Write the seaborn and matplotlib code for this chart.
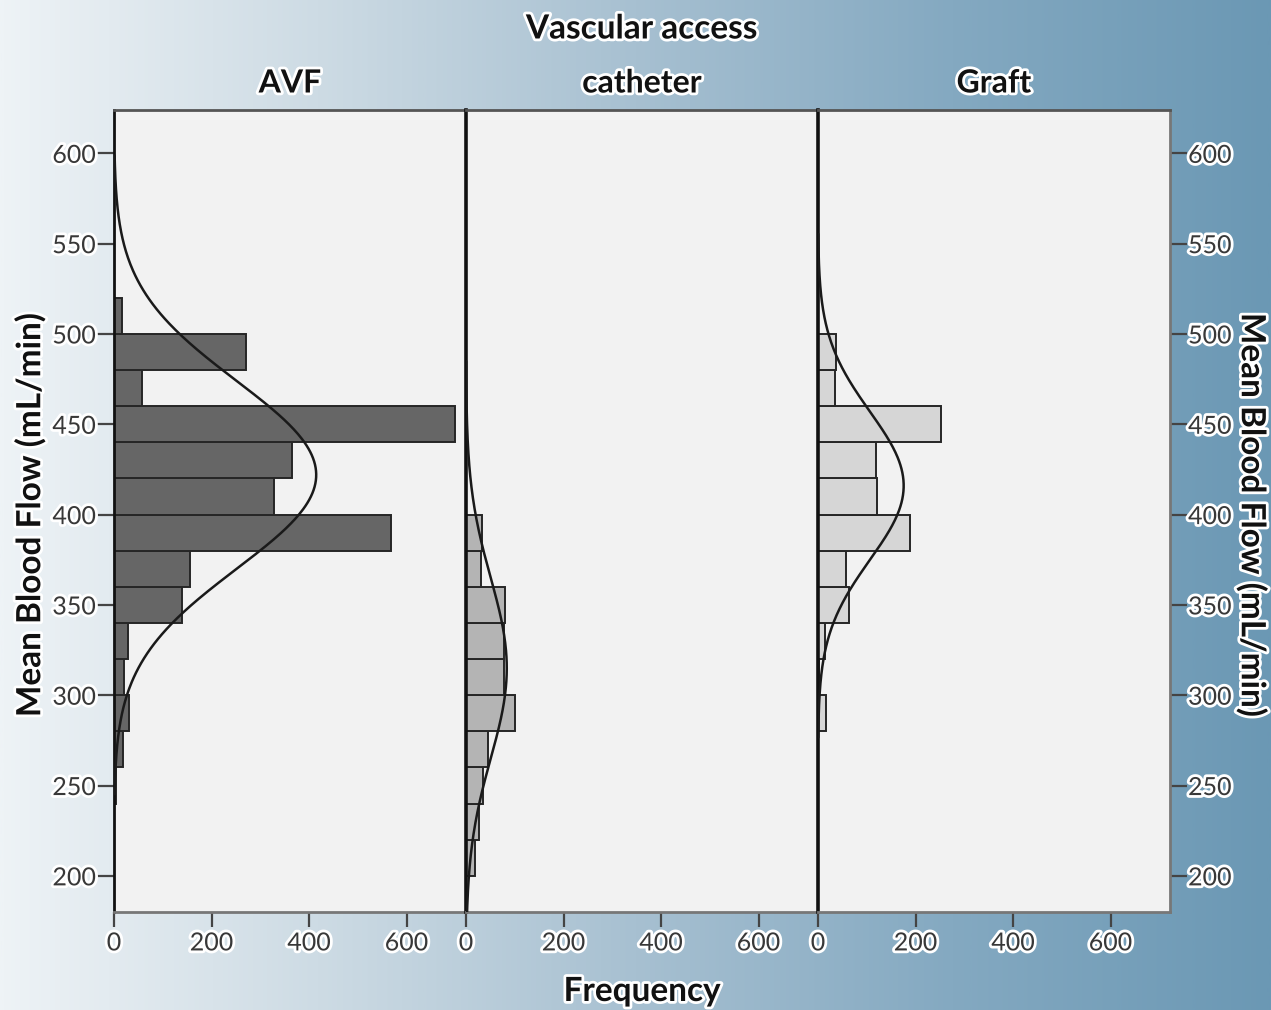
import numpy as np
import pandas as pd
import seaborn as sns
import matplotlib.pyplot as plt
from matplotlib import patheffects as pe
from matplotlib.colors import LinearSegmentedColormap

# ---------------- data ----------------
groups = ["AVF", "catheter", "Graft"]
bin_width = 20

avf_edges = list(range(240, 540, 20))          # 240 ... 520
avf_counts = [4, 19, 31, 20, 29, 139, 156, 568, 328, 366, 699, 58, 270, 16]

cath_edges = list(range(200, 420, 20))         # 200 ... 400
cath_counts = [18, 26, 34, 46, 100, 78, 78, 81, 30, 33]

graft_edges = list(range(280, 520, 20))        # 280 ... 500
graft_counts = [16, 2, 14, 63, 58, 188, 122, 118, 252, 34, 36]

curve_means = [422, 315, 416]
curve_sds = [52, 50, 41]

x_ticks = [0, 200, 400, 600]
y_ticks = [200, 250, 300, 350, 400, 450, 500, 550, 600]

bar_colors = ["#666666", "#b4b4b4", "#d6d6d6"]

# ---------------- style ----------------
sns.set_theme(style="white")
plt.rcParams["font.family"] = ["Lato", "DejaVu Sans"]
halo = [pe.withStroke(linewidth=4, foreground="white")]

W, H = 1271, 1010
fig = plt.figure(figsize=(W / 100, H / 100), dpi=100)

# gradient background
bg = fig.add_axes([0, 0, 1, 1], zorder=-10)
grad = np.linspace(0, 1, 512).reshape(1, -1)
cmap = LinearSegmentedColormap.from_list(
    "bg", ["#eef3f6", "#cddbe4", "#a7c0d1", "#84a9c1", "#6b98b4"])
bg.imshow(grad, aspect="auto", cmap=cmap, extent=[0, 1, 0, 1])
bg.set_xlim(0, 1)
bg.set_ylim(0, 1)
bg.axis("off")

left_px, right_px, top_px, bottom_px = 114, 1170, 110, 912
pw = (right_px - left_px) / 3 / W
ph = (bottom_px - top_px) / H
y0 = 1 - bottom_px / H

all_edges = [avf_edges, cath_edges, graft_edges]
all_counts = [avf_counts, cath_counts, graft_counts]

tick_fs = 18
title_fs = 23
label_fs = 24

axes = []
for i, g in enumerate(groups):
    ax = fig.add_axes([left_px / W + i * pw, y0, pw, ph])
    axes.append(ax)
    ax.set_facecolor("#f2f2f2")
    edges = [float(e) for e in all_edges[i]]
    counts = np.array(all_counts[i], dtype=float)
    mids = [(a + b) / 2 for a, b in zip(edges[:-1], edges[1:])]
    df = pd.DataFrame({"flow": mids, "n": counts})
    sns.histplot(data=df, y="flow", weights="n", bins=edges, ax=ax,
                 color=bar_colors[i], edgecolor="#262626", linewidth=1.4,
                 alpha=1.0)
    # normal curve
    m, s = curve_means[i], curve_sds[i]
    n_tot = counts.sum()
    yy = np.linspace(m - 3.4 * s, m + 3.4 * s, 400)
    xx = n_tot * bin_width * np.exp(-0.5 * ((yy - m) / s) ** 2) / (s * np.sqrt(2 * np.pi))
    ax.plot(xx, yy, color="#1a1a1a", lw=1.8, zorder=5)

    ax.set_xlim(0, 722)
    ax.set_ylim(180, 624)
    ax.set_xlabel("")
    ax.set_ylabel("")
    ax.set_xticks(x_ticks)
    ax.set_xticklabels([str(t) for t in x_ticks])
    ax.tick_params(axis="x", direction="out", length=11, width=1.6,
                   color="#444444", labelsize=tick_fs, labelcolor="#383838",
                   pad=3, bottom=True)
    for lab in ax.get_xticklabels():
        lab.set_path_effects(halo)

    ax.set_yticks(y_ticks)
    if i == 0:
        ax.tick_params(axis="y", direction="out", length=12, width=1.6,
                       color="#444444", labelsize=tick_fs, labelcolor="#383838",
                       pad=1, left=True, right=False)
        for lab in ax.get_yticklabels():
            lab.set_path_effects(halo)
    elif i == 2:
        ax.yaxis.tick_right()
        ax.tick_params(axis="y", direction="out", length=12, width=1.6,
                       color="#444444", labelsize=tick_fs, labelcolor="#383838",
                       pad=1, right=True, left=False, labelright=True,
                       labelleft=False)
        for lab in ax.get_yticklabels():
            lab.set_path_effects(halo)
    else:
        ax.tick_params(axis="y", left=False, right=False, labelleft=False)

    for side in ["top", "bottom", "left", "right"]:
        ax.spines[side].set_visible(True)
    ax.spines["top"].set_color("#555555")
    ax.spines["top"].set_linewidth(2)
    ax.spines["bottom"].set_color("#777777")
    ax.spines["bottom"].set_linewidth(2)
    ax.spines["left"].set_color("#111111")
    ax.spines["left"].set_linewidth(2.6 if i > 0 else 2)
    if i < 2:
        ax.spines["right"].set_visible(False)
    else:
        ax.spines["right"].set_color("#777777")
        ax.spines["right"].set_linewidth(2)

    # column title
    cx = (left_px + (i + 0.5) * (right_px - left_px) / 3) / W
    fig.text(cx, 1 - 83 / H, g, ha="center", va="center", fontsize=title_fs,
             fontweight="bold", color="#111111", path_effects=halo)

fig.text(642 / W, 1 - 29 / H, "Vascular access", ha="center", va="center",
         fontsize=label_fs, fontweight="bold", color="#111111", path_effects=halo)
fig.text(642 / W, 1 - 1001 / H, "Frequency", ha="center", va="baseline",
         fontsize=label_fs, fontweight="bold", color="#111111", path_effects=halo)
fig.text(30 / W, 1 - 515 / H, "Mean Blood Flow (mL/min)", ha="center",
         va="center", rotation=90, fontsize=label_fs, fontweight="bold",
         color="#111111", path_effects=halo)
fig.text(1252 / W, 1 - 515 / H, "Mean Blood Flow (mL/min)", ha="center",
         va="center", rotation=270, fontsize=label_fs, fontweight="bold",
         color="#111111", path_effects=halo)

fig.savefig("out.png", dpi=100)
